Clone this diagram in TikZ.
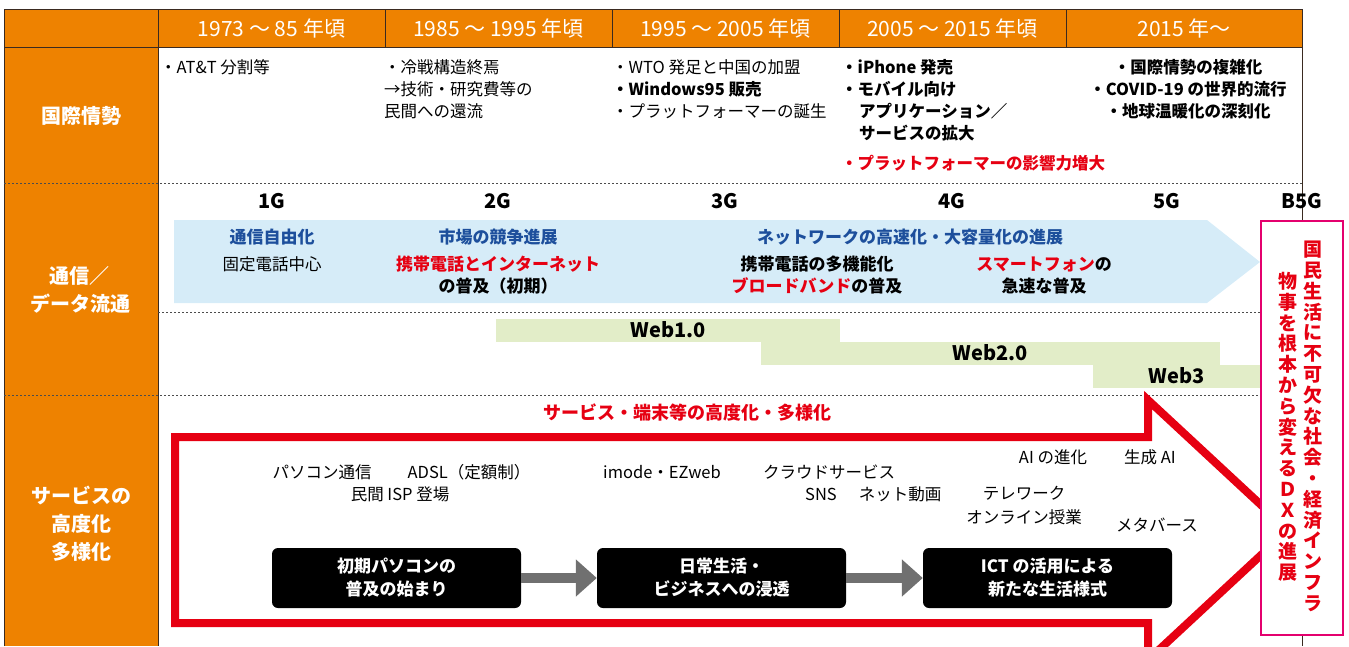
\documentclass[tikz,border=0pt]{standalone}
\usepackage{fontspec}
\setmainfont{Noto Sans CJK JP}
\usetikzlibrary{arrows.meta}

\definecolor{orng}{HTML}{EE8200}
\definecolor{rule}{HTML}{3A2A20}
\definecolor{jred}{HTML}{E60012}
\definecolor{jblue}{HTML}{1D4F9C}
\definecolor{band}{HTML}{D6ECF8}
\definecolor{webg}{HTML}{E2EDC8}
\definecolor{dxpink}{HTML}{E4006E}
\definecolor{arrg}{HTML}{707070}

\tikzstyle{head} = [text=white, font=\fontsize{21}{24}\selectfont]
\tikzstyle{side} = [text=white, align=center, font=\bfseries\fontsize{20}{28}\selectfont]
\tikzstyle{sep} = [draw=black!70, line width=0.8pt, dash pattern=on 2pt off 2pt]
\tikzstyle{note} = [anchor=north west, inner sep=0pt, align=left, font=\fontsize{16.5}{22}\selectfont]
\tikzstyle{notebf} = [note, font=\bfseries\fontsize{16.5}{22}\selectfont]
\tikzstyle{gen} = [inner sep=0pt, font=\bfseries\fontsize{20}{22}\selectfont]
\tikzstyle{plain} = [inner sep=0pt, font=\fontsize{16.5}{22}\selectfont]
\tikzstyle{strong} = [inner sep=0pt, align=center, font=\bfseries\fontsize{17}{22}\selectfont]
\tikzstyle{bluebf} = [strong, text=jblue]
\tikzstyle{web} = [fill=webg, inner sep=0pt, minimum height=23pt, font=\bfseries\fontsize{20}{22}\selectfont]
\tikzstyle{title} = [inner sep=0pt, text=jred, font=\bfseries\fontsize{18}{20}\selectfont]
\tikzstyle{bigarrow} = [draw=jred, line width=8pt]
\tikzstyle{stage} = [fill=black, rounded corners=6pt, text=white, align=center, minimum width=249pt, minimum height=60pt, font=\bfseries\fontsize{17}{23}\selectfont]
\tikzstyle{flow} = [draw=arrg, line width=10pt, -{Triangle[length=21pt, width=36pt]}]
\tikzstyle{dxbox} = [draw=dxpink, line width=2pt, fill=white, inner sep=0pt, minimum width=82pt, minimum height=414pt]
\tikzstyle{vtext} = [anchor=north, inner sep=0pt, align=center, text=jred, font=\bfseries\fontsize{19}{20.8}\selectfont]

\begin{document}
\begin{tikzpicture}[x=1pt, y=-1pt]
	\useasboundingbox (0,0) rectangle (1349,646);
	\clip (0,0) rectangle (1349,646);

	% table frame
	\fill[orng] (4,9) rectangle (1302,47);
	\fill[orng] (4,47) rectangle (158,646);
	\draw[rule] (4,646) -- (4,9) -- (1302,9) -- (1302,646);
	\draw[rule] (4,47) -- (1302,47);
	\draw[rule] (158,9) -- (158,646);
	\draw[rule] (385,9) -- (385,47);
	\draw[rule] (612,9) -- (612,47);
	\draw[rule] (839,9) -- (839,47);
	\draw[rule] (1066,9) -- (1066,47);
	\draw[sep] (4,183) -- (1302,183);
	\draw[sep] (158,312) -- (1302,312);
	\draw[sep] (4,395) -- (1302,395);

	\node[head] (h1) at (271.5,28) {1973 ～ 85 年頃};
	\node[head] (h2) at (498.5,28) {1985 ～ 1995 年頃};
	\node[head] (h3) at (725.5,28) {1995 ～ 2005 年頃};
	\node[head] (h4) at (952.5,28) {2005 ～ 2015 年頃};
	\node[head] (h5) at (1184,28) {2015 年～};

	\node[side] (world) at (81,116) {国際情勢};
	\node[side] (comm) at (80,290) {通信／\\データ流通};
	\node[side] (serv) at (81,524) {サービスの\\高度化\\多様化};

	% international situation
	\node[note] (att) at (160,59.5) {・AT\&T 分割等};
	\node[note] (cold) at (384,59.5) {・冷戦構造終焉\\→技術・研究費等の\\民間への還流};
	\node[note] (wto) at (612,59.5) {・WTO 発足と中国の加盟\\\textbf{・Windows95 販売}\\・プラットフォーマーの誕生};
	\node[notebf] (iphone) at (841,59.5) {・iPhone 発売\\・モバイル向け\\\hspace*{18pt}アプリケーション／\\\hspace*{18pt}サービスの拡大};
	\node[notebf, text=jred] (pfm) at (841,155.5) {・プラットフォーマーの影響力増大};
	\node[notebf, anchor=north, align=center] (intl) at (1188,59.5) {・国際情勢の複雑化\\・COVID-19 の世界的流行\\・地球温暖化の深刻化};

	% communication
	\node[gen] (g1) at (272,201) {1G};
	\node[gen] (g2) at (498,201) {2G};
	\node[gen] (g3) at (725,201) {3G};
	\node[gen] (g4) at (952,201) {4G};
	\node[gen] (g5) at (1167,201) {5G};
	\node[gen] (g6) at (1302,201) {B5G};
	\fill[band] (174,220) -- (1207,220) -- (1260,262) -- (1207,303) -- (174,303) -- cycle;
	\node[bluebf] (lib) at (272,237) {通信自由化};
	\node[plain] (fixed) at (272,264) {固定電話中心};
	\node[bluebf] (market) at (498,237) {市場の競争進展};
	\node[strong] (mobile) at (498,275) {\textcolor{jred}{携帯電話とインターネット}\\の普及（初期）};
	\node[bluebf] (speed) at (910,237) {ネットワークの高速化・大容量化の進展};
	\node[strong] (multi) at (817,275) {携帯電話の多機能化\\\textcolor{jred}{ブロードバンド}の普及};
	\node[strong] (smart) at (1044,275) {\textcolor{jred}{スマートフォン}の\\急速な普及};

	\node[web, minimum width=344pt] (web1) at (668,330) {Web1.0};
	\node[web, minimum width=459pt] (web2) at (990.5,353) {Web2.0};
	\node[web, minimum width=167pt] (web3) at (1176.5,376) {Web3};

	% services
	\node[title] (adv) at (687,413) {サービス・端末等の高度化・多様化};
	\draw[bigarrow] (175,437) -- (1148,437) -- (1148,400) -- (1288,530) -- (1148,660) -- (1148,623) -- (175,623) -- cycle;

	\node[plain] (pc) at (322,472) {パソコン通信};
	\node[plain] (adsl) at (469,472) {ADSL（定額制）};
	\node[plain] (isp) at (400,494) {民間 ISP 登場};
	\node[plain] (imode) at (662,472) {imode・EZweb};
	\node[plain] (cloud) at (829,472) {クラウドサービス};
	\node[plain] (sns) at (821,494) {SNS};
	\node[plain] (video) at (900,494) {ネット動画};
	\node[plain] (ai) at (1053,457) {AI の進化};
	\node[plain] (genai) at (1150,457) {生成 AI};
	\node[plain] (tele) at (1024,493) {テレワーク};
	\node[plain] (online) at (1024,517) {オンライン授業};
	\node[plain] (meta) at (1157,525) {メタバース};

	\node[stage] (pcera) at (396.5,578) {初期パソコンの\\普及の始まり};
	\node[stage] (daily) at (721.5,578) {日常生活・\\ビジネスへの浸透};
	\node[stage] (ict) at (1047.5,578) {ICT の活用による\\新たな生活様式};
	\draw[flow] (pcera) -- (daily);
	\draw[flow] (daily) -- (ict);

	% DX box
	\node[dxbox] (dx) at (1302,428) {};
	\node[vtext] (dxa) at (1313,241) {国\\民\\生\\活\\に\\不\\可\\欠\\な\\社\\会\\・\\経\\済\\イ\\ン\\フ\\ラ};
	\node[vtext] (dxb) at (1288,272) {物\\事\\を\\根\\本\\か\\ら\\変\\え\\る\\Ｄ\\Ｘ\\の\\進\\展};
\end{tikzpicture}
\end{document}
